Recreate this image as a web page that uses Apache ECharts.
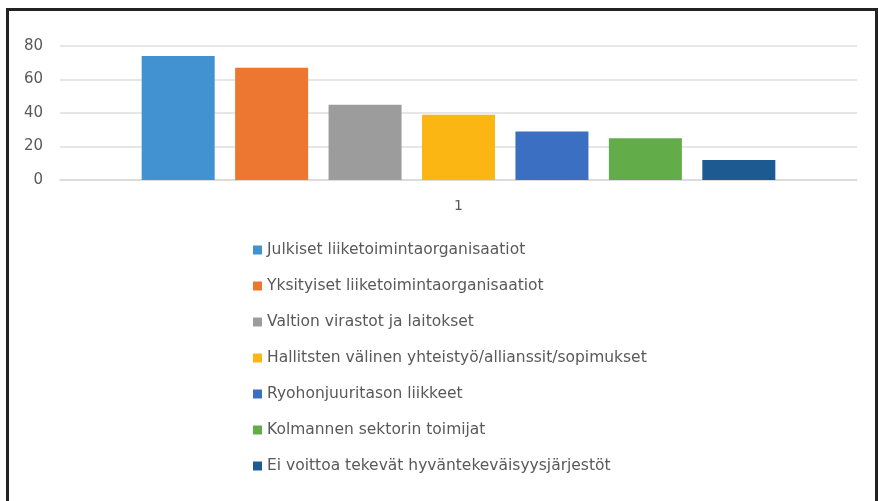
<!DOCTYPE html>
<html>
<head>
<meta charset="utf-8">
<script src="https://cdn.jsdelivr.net/npm/echarts@6/dist/echarts.min.js"></script>
<style>
  html, body { margin: 0; padding: 0; background: #fff; }
  #chart { position: absolute; left: 0; top: 0; width: 878px; height: 501px; }
  .frame {
    position: absolute; left: 6px; top: 8px; width: 866px; height: 500px;
    border: 3px solid #222; border-bottom: none; pointer-events: none;
  }
</style>
</head>
<body>
<div id="chart"></div>
<div class="frame"></div>
<script>
  // data
  var categories = ['1'];
  var seriesNames = [
    'Julkiset liiketoimintaorganisaatiot',
    'Yksityiset liiketoimintaorganisaatiot',
    'Valtion virastot ja laitokset',
    'Hallitsten välinen yhteistyö/allianssit/sopimukset',
    'Ryohonjuuritason liikkeet',
    'Kolmannen sektorin toimijat',
    'Ei voittoa tekevät hyväntekeväisyysjärjestöt'
  ];
  var values = [74, 67, 45, 39, 29, 25, 12];
  var colors = ['#4291d1', '#ed7630', '#9c9c9c', '#fcb614', '#3b6fc1', '#62ad4a', '#1c5a91'];
  var yTicks = { min: 0, max: 80, interval: 20 };

  var font = '"DejaVu Sans", "Open Sans", sans-serif';
  var chart = echarts.init(document.getElementById('chart'));

  var series = seriesNames.map(function (name, i) {
    return {
      name: name,
      type: 'bar',
      data: [values[i]],
      itemStyle: { color: colors[i] },
      barWidth: 73,
      barGap: '28%',
      animation: false
    };
  });

  chart.setOption({
    backgroundColor: '#fff',
    textStyle: { fontFamily: font },
    grid: { left: 60, right: 21, top: 46, bottom: 321, containLabel: false },
    xAxis: {
      type: 'category',
      data: categories,
      axisLine: { lineStyle: { color: '#d9d9d9', width: 1.5 } },
      axisTick: { show: false },
      axisLabel: { color: '#595959', fontSize: 14, margin: 19, fontFamily: font }
    },
    yAxis: {
      type: 'value',
      min: yTicks.min,
      max: yTicks.max,
      interval: yTicks.interval,
      axisLine: { show: false },
      axisTick: { show: false },
      splitLine: { lineStyle: { color: '#dedede', width: 1.5 } },
      axisLabel: { color: '#595959', fontSize: 15, margin: 17, fontFamily: font }
    },
    legend: {
      orient: 'vertical',
      left: 248,
      top: 237,
      itemWidth: 9,
      itemHeight: 9,
      itemGap: 20,
      icon: 'rect',
      textStyle: { color: '#595959', fontSize: 15.5, fontFamily: font },
      data: seriesNames
    },
    series: series
  });
</script>
</body>
</html>
